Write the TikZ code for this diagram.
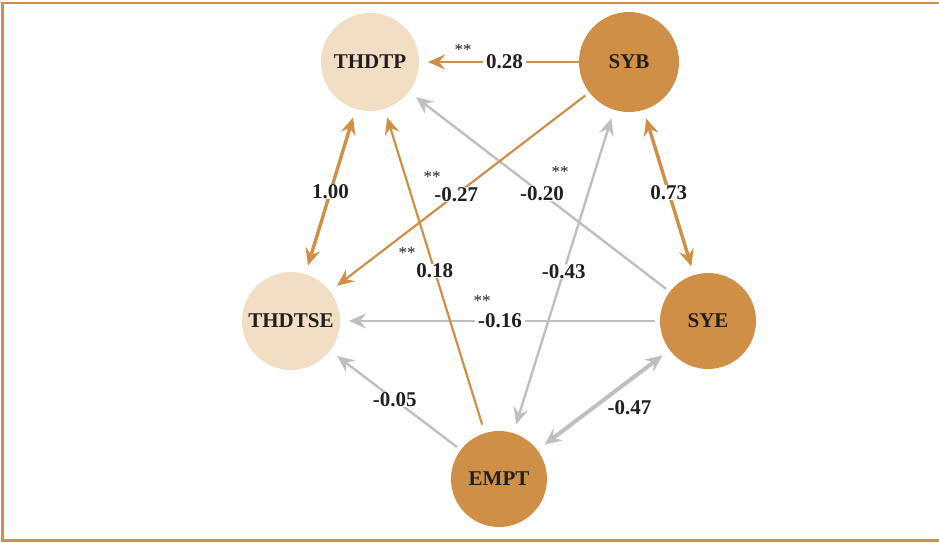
\documentclass[tikz,border=0pt]{standalone}
\usepackage{fontspec}
\setmainfont{Liberation Serif}
\usetikzlibrary{arrows.meta}
\definecolor{orng}{RGB}{207,143,70}
\definecolor{lite}{RGB}{242,222,197}
\definecolor{gry}{RGB}{190,191,194}
\definecolor{txt}{RGB}{35,31,32}
\begin{document}
\begin{tikzpicture}[x=1pt,y=-1pt,
  every node/.style={font=\fontsize{21}{24}\selectfont\bfseries, text=txt},
  lightnode/.style={circle, fill=lite, minimum size=98pt, inner sep=0pt, outer sep=0pt},
  darknode/.style={circle, fill=orng, minimum size=96pt, inner sep=0pt, outer sep=0pt},
  tipend/.style={-{Stealth[length=17pt,width=15pt,inset=6pt]}, shorten <=5pt, shorten >=9pt},
  tipboth/.style={{Stealth[length=17pt,width=15pt,inset=6pt]}-{Stealth[length=17pt,width=15pt,inset=6pt]}, shorten <=9pt, shorten >=9pt},
  oline/.style={draw=orng, line width=2.2pt},
  othick/.style={draw=orng, line width=3.4pt},
  gline/.style={draw=gry, line width=2.4pt},
  gthick/.style={draw=gry, line width=4pt},
  lbl/.style={fill=white, inner xsep=3pt, inner ysep=0pt},
  star/.style={font=\fontsize{17}{17}\selectfont, inner sep=0pt},
  border/.style={draw=orng, line width=2.5pt}
]
\useasboundingbox (0,0) rectangle (939,543);
\draw[border] (939,3) -- (2.5,3) -- (2.5,540.5) -- (939,540.5);

\node[lightnode] (thdtp) at (370,62) {THDTP};
\node[darknode, minimum size=100pt] (syb) at (629,62) {SYB};
\node[lightnode] (thdtse) at (291,321) {THDTSE};
\node[darknode] (sye) at (708,321) {SYE};
\node[darknode] (empt) at (499,479) {EMPT};

% gray connectors
\draw[gline, tipend] (sye) -- node[lbl, pos=0.49] {-0.20} (thdtp);
\draw[gline, tipboth] (syb) -- node[lbl, pos=0.5] {-0.43} (empt);
\draw[gline, tipend] (sye) -- node[lbl, pos=0.5] {-0.16} (thdtse);
\draw[gline, tipend] (empt) -- node[lbl, pos=0.505] {-0.05} (thdtse);
\draw[gthick, tipboth] (sye) -- node[pos=0.5, xshift=26pt, yshift=-8pt] {-0.47} (empt);

% orange connectors
\draw[oline, line width=2.6pt, tipend, shorten <=0pt] (syb) -- node[lbl, pos=0.465] {0.28} (thdtp);
\draw[oline, tipend] (syb) -- node[lbl, pos=0.513] {-0.27} (thdtse);
\draw[othick, tipboth] (thdtp) -- node[lbl, pos=0.5] {1.00} (thdtse);
\draw[oline, tipend, shorten <=9pt] (empt) -- node[lbl, pos=0.5] {0.18} (thdtp);
\draw[othick, tipboth] (syb) -- node[lbl, pos=0.5] {0.73} (sye);

% significance stars
\node[star] (s1) at (463,50) {**};
\node[star] (s2) at (432,177) {**};
\node[star] (s3) at (407,253) {**};
\node[star] (s4) at (560,172) {**};
\node[star] (s5) at (482,301) {**};
\end{tikzpicture}
\end{document}
